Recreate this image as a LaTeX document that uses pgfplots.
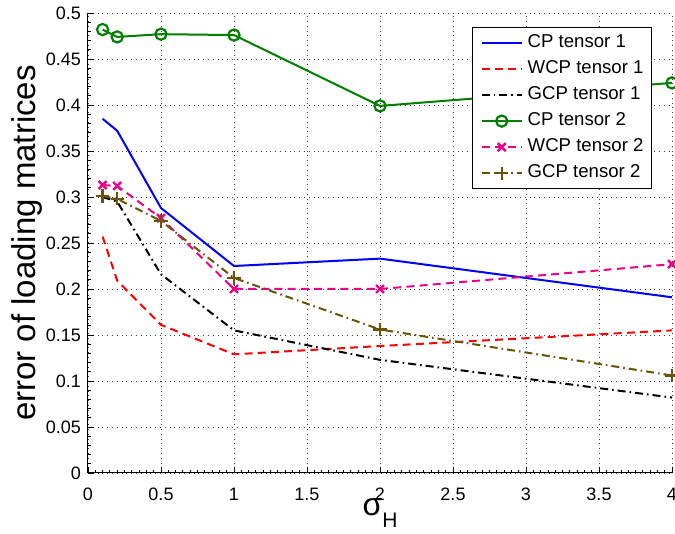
\documentclass[border=0pt]{standalone}
\usepackage{pgfplots}
\pgfplotsset{compat=1.18}
\usepackage{fontspec}
\setmainfont{Liberation Sans}
\usetikzlibrary{calc}
\definecolor{mgreen}{rgb}{0,0.5,0}
\definecolor{molive}{rgb}{0.42,0.32,0.02}
\begin{document}
\begin{tikzpicture}
\begin{axis}[
  name=ax,
  scale only axis,
  width=292pt, height=230pt,
  xmin=0, xmax=4, ymin=0, ymax=0.5,
  xtick={0,0.5,...,4},
  ytick={0,0.05,...,0.5},
  xticklabels={0,0.5,1,1.5,2,2.5,3,3.5,4},
  yticklabels={0,0.05,0.1,0.15,0.2,0.25,0.3,0.35,0.4,0.45,0.5},
  minor x tick num=9,
  minor y tick num=4,
  axis x line*=bottom, axis y line*=left,
  axis line style={line width=0.5pt,-},
  tick align=inside,
  major tick length=3pt, minor tick length=1.5pt,
  every tick/.style={black, line width=0.4pt},
  grid=major,
  major grid style={dotted, black!75, line width=0.45pt},
  tick label style={font=\fontsize{9}{10}\selectfont},
  /pgf/number format/assume math mode=true,
  xticklabel style={yshift=-4pt},
  xlabel={\fontsize{16}{18}\selectfont σ\raisebox{-6pt}{\fontsize{10.5}{12}\selectfont H}},
  xlabel style={at={(axis description cs:0.5,0)}, anchor=base, yshift=-21.5pt, inner sep=0pt},
  ylabel={\fontsize{16.5}{18}\selectfont error of loading matrices},
  ylabel style={at={(axis description cs:0,0.5)}, anchor=base, rotate=0, yshift=26pt, inner sep=0pt},
  legend image code/.code={\draw[mark repeat=2,mark phase=2,#1] plot coordinates {(0pt,0pt) (10pt,0pt) (20pt,0pt)};},
  legend style={
    at={(rel axis cs:1,1)}, anchor=north east, xshift=-10pt, yshift=-7pt,
    draw=black, line width=0.5pt, fill=white,
    inner xsep=4pt, inner ysep=3.4pt,
    row sep=4.2pt,
    font=\fontsize{9.3}{10}\selectfont,
    nodes={inner sep=0pt, text height=6.8pt, text depth=2pt, anchor=west},
    /tikz/every odd column/.append style={column sep=2.5pt},
  },
  legend cell align=left,
]
\addplot[blue, line width=1pt] coordinates {
 (0.1,0.385) (0.2,0.372) (0.5,0.288) (1,0.225) (2,0.233) (4,0.191)};
\addlegendentry{CP tensor 1}
\addplot[red, line width=1pt, dash pattern=on 4pt off 2.6pt] coordinates {
 (0.1,0.257) (0.2,0.209) (0.5,0.161) (1,0.129) (2,0.138) (4,0.155)};
\addlegendentry{WCP tensor 1}
\addplot[black, line width=1pt, dash pattern=on 4pt off 2pt on 0.8pt off 2pt] coordinates {
 (0.1,0.300) (0.2,0.295) (0.5,0.216) (1,0.155) (2,0.123) (4,0.082)};
\addlegendentry{GCP tensor 1}
\addplot[mgreen, line width=1pt, mark=o, mark size=2.8pt, mark options={solid, fill=white, line width=1.1pt}] coordinates {
 (0.1,0.482) (0.2,0.474) (0.5,0.477) (1,0.476) (2,0.399) (4,0.424)};
\addlegendentry{CP tensor 2}
\addplot[magenta, line width=1pt, dash pattern=on 4pt off 2.6pt, mark=x, mark size=2.8pt, mark options={solid, line width=1.2pt}] coordinates {
 (0.1,0.313) (0.2,0.312) (0.5,0.277) (1,0.200) (2,0.200) (4,0.227)};
\addlegendentry{WCP tensor 2}
\addplot[molive, line width=1pt, dash pattern=on 4pt off 2pt on 0.8pt off 2pt, mark=+, mark size=3.3pt, mark options={solid, line width=1.2pt}] coordinates {
 (0.1,0.301) (0.2,0.298) (0.5,0.274) (1,0.212) (2,0.156) (4,0.106)};
\addlegendentry{GCP tensor 2}
\coordinate (bl) at (rel axis cs:0,0);
\coordinate (tr) at (rel axis cs:1,1);
\end{axis}
\pgfresetboundingbox
\path[use as bounding box] ($(bl)+(-44pt,-30.5pt)$) rectangle ($(tr)+(1.5pt,6.5pt)$);
\end{tikzpicture}
\end{document}
